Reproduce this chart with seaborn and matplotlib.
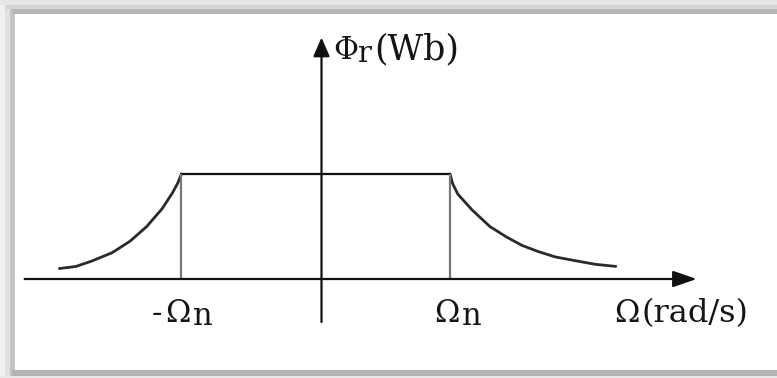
import matplotlib
matplotlib.use("Agg")
import matplotlib.pyplot as plt
import seaborn as sns
import pandas as pd
from matplotlib.patches import Rectangle
from matplotlib.transforms import IdentityTransform

# Rated-speed edges of the constant-flux region and the rated flux level
omega_n_neg = -1.09
omega_n_pos = 1.00
phi_rated = 1.0

# Field-weakening branches beyond rated speed (omega, flux)
weak_left_omega = [-2.04, -1.97, -1.91, -1.79, -1.63, -1.49, -1.36, -1.24, -1.16, -1.12, -1.09]
weak_left_flux = [0.10, 0.11, 0.12, 0.17, 0.25, 0.36, 0.50, 0.67, 0.82, 0.91, 1.00]
weak_right_omega = [1.00, 1.02, 1.06, 1.17, 1.31, 1.44, 1.56, 1.69, 1.82, 1.95, 2.13, 2.29]
weak_right_flux = [1.00, 0.91, 0.81, 0.66, 0.50, 0.40, 0.32, 0.26, 0.21, 0.18, 0.14, 0.12]

# Extent of the coordinate axes drawn as arrows
x_axis_from, x_axis_to = -2.31, 2.92
y_axis_from, y_axis_to = -0.41, 2.30

# Label texts
x_tick_labels = ["-", "Ω", "n", "Ω", "n"]
x_axis_label = ("Ω", "(rad/s)")
y_axis_label = ("Φ", "r", "(Wb)")

W, H = 777, 378
sns.set_theme(style="white")
plt.rcParams["font.family"] = ["DejaVu Serif", "DejaVu Sans"]

fig = plt.figure(figsize=(W / 100, H / 100), dpi=100)
fig.patch.set_facecolor("white")

# shadowed frame around the panel (pixel coordinates, origin bottom-left)
pix = IdentityTransform()
frame_bands = [
    # left edge, outer to inner
    (0, 0, 5, H, "#f0f0f0"), (5, 0, 5, H, "#e0e0e0"), (10, 0, 5, H, "#c4c4c4"),
    # top edge
    (0, H - 5, W, 5, "#e6e6e6"), (5, H - 9, W, 4, "#d4d4d4"), (12, H - 14, W, 5, "#b6b6b6"),
    # bottom edge
    (0, 0, W, 2, "#e8e8e8"), (12, 2, W, 6, "#b4b4b4"),
]
for x0, y0, w, h, c in frame_bands:
    fig.patches.append(Rectangle((x0, y0), w, h, transform=pix, color=c, lw=0, zorder=0))

ax = fig.add_axes([0, 0, 1, 1])
ax.set_facecolor("none")
px_per_x, px_per_y = 128.5, 105.0
x0_px, y0_px = 321.5, H - 279
ax.set_xlim(-x0_px / px_per_x, (W - x0_px) / px_per_x)
ax.set_ylim(-y0_px / px_per_y, (H - y0_px) / px_per_y)
ax.axis("off")

left = pd.DataFrame({"omega": weak_left_omega, "flux": weak_left_flux})
right = pd.DataFrame({"omega": weak_right_omega, "flux": weak_right_flux})
flat = pd.DataFrame({"omega": [omega_n_neg, omega_n_pos], "flux": [phi_rated, phi_rated]})

for df, col, lw in [(left, "#2a2a2a", 2.0), (right, "#2a2a2a", 2.0), (flat, "#111111", 1.6)]:
    sns.lineplot(data=df, x="omega", y="flux", ax=ax, color=col, lw=lw,
                 sort=False, estimator=None, legend=False)

# drop lines at the rated speeds
for w in (omega_n_neg, omega_n_pos):
    ax.plot([w, w], [0, phi_rated], color="#777777", lw=1.6, solid_capstyle="butt")

# axes with arrow heads
ax.annotate("", xy=(x_axis_to, 0), xytext=(x_axis_from, 0),
            arrowprops=dict(arrowstyle="-|>,head_length=1.45,head_width=0.5",
                            mutation_scale=10, lw=1.6, color="#111111",
                            shrinkA=0, shrinkB=0))
ax.annotate("", xy=(0, y_axis_to), xytext=(0, y_axis_from),
            arrowprops=dict(arrowstyle="-|>,head_length=1.15,head_width=0.5",
                            mutation_scale=10, lw=1.6, color="#111111",
                            shrinkA=0, shrinkB=0))


def piece(x, y_top, s, size, dy=0):
    ax.text(x, H - y_top - dy, s, transform=pix, ha="left", va="baseline",
            fontsize=size, color="#151515")


# -Ωn
piece(152, 322, x_tick_labels[0], 22)
piece(165, 322, x_tick_labels[1], 22)
piece(193, 322, x_tick_labels[2], 22, dy=3)
# Ωn
piece(434, 322, x_tick_labels[3], 22)
piece(462, 322, x_tick_labels[4], 22, dy=3)
# Ω(rad/s)
piece(614, 322, x_axis_label[0], 22)
piece(642, 322, x_axis_label[1], 23)
# Φr(Wb)
piece(333, 59, y_axis_label[0], 22)
piece(358, 59, y_axis_label[1], 21, dy=3)
piece(374, 59, y_axis_label[2], 25)

fig.savefig("out.png", dpi=100)
